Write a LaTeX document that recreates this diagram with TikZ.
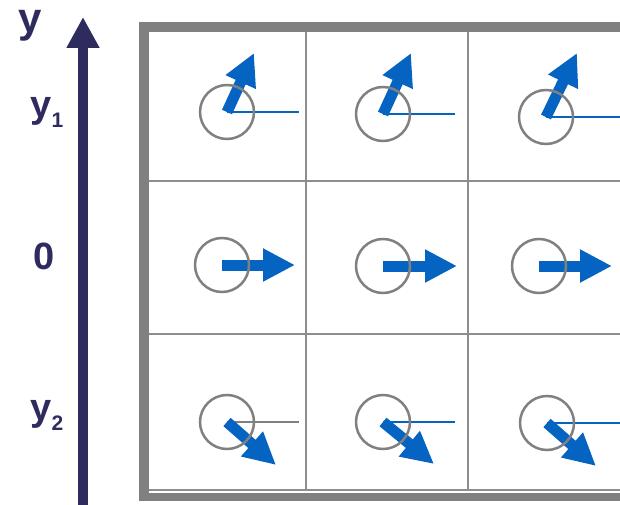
\documentclass[tikz,border=0pt]{standalone}
\usepackage{fontspec}
\setmainfont{Liberation Sans}
\usetikzlibrary{arrows.meta}
\definecolor{axisnavy}{HTML}{2E2B5F}
\definecolor{spinblue}{HTML}{0563C1}
\definecolor{framegray}{HTML}{808080}
\begin{document}
\begin{tikzpicture}[x=1pt,y=-1pt,
    vortex/.style={circle,draw=framegray,line width=2.5pt,minimum size=54pt,inner sep=0pt},
    spin/.style={spinblue,line width=11pt,-{Triangle[length=32pt,width=31pt]}},
    refline/.style={spinblue,line width=2.2pt},
    gridline/.style={framegray!90,line width=2.8pt},
    axis/.style={axisnavy,line width=10pt,-{Triangle[length=31pt,width=31pt]}},
    lab/.style={axisnavy,inner sep=0pt,font=\fontsize{38}{40}\selectfont\bfseries}]
    \useasboundingbox (0,0) rectangle (620,505);
    \clip (0,0) rectangle (620,505);
    % frame and cells
    \draw[framegray,line width=10pt] (144,501) -- (144,27) -- (660,27);
    \draw[framegray,line width=8pt] (139,497) -- (660,497);
    \draw[gridline] (149,490) -- (660,490);
    \draw[gridline] (149,181) -- (660,181);
    \draw[gridline] (149,334) -- (660,334);
    \draw[gridline] (306,32) -- (306,490);
    \draw[gridline] (468,32) -- (468,490);
    % y axis
    \coordinate (ybot) at (83,505);
    \coordinate (ytop) at (83,17);
    \draw[axis] (ybot) -- (ytop);
    \node[lab,font=\fontsize{42}{44}\selectfont\bfseries] (ylab) at (30,25.5) {y};
    \node[lab] (yone) at (47,112) {y\raisebox{-10pt}{\fontsize{21}{21}\selectfont 1}};
    \node[lab] (zero) at (44,256.5) {0};
    \node[lab] (ytwo) at (47,415) {y\raisebox{-10pt}{\fontsize{21}{21}\selectfont 2}};
    % centres, tips and reference ends
    \coordinate (o11) at (227,112); \coordinate (t11) at (254,53); \coordinate (r11) at (299,112);
    \coordinate (o12) at (383,114); \coordinate (t12) at (411,53); \coordinate (r12) at (455,114);
    \coordinate (o13) at (546,117); \coordinate (t13) at (577,53); \coordinate (r13) at (620,117);
    \coordinate (o21) at (222,265); \coordinate (t21) at (295,265);
    \coordinate (o22) at (383,266); \coordinate (t22) at (457,266);
    \coordinate (o23) at (539,266); \coordinate (t23) at (612,266);
    \coordinate (o31) at (227,422); \coordinate (t31) at (276,465); \coordinate (r31) at (299,422);
    \coordinate (o32) at (383,422); \coordinate (t32) at (434,464); \coordinate (r32) at (455,422);
    \coordinate (o33) at (547,423); \coordinate (t33) at (596,466); \coordinate (r33) at (620,423);
    % reference lines
    \draw[refline] (o11) -- (r11);
    \draw[refline] (o12) -- (r12);
    \draw[refline] (o13) -- (r13);
    \draw[refline,framegray] (o31) -- (r31);
    \draw[refline] (o32) -- (r32);
    \draw[refline] (o33) -- (r33);
    % spins
    \draw[spin] (o11) -- (t11);
    \draw[spin] (o12) -- (t12);
    \draw[spin] (o13) -- (t13);
    \draw[spin] (o21) -- (t21);
    \draw[spin] (o22) -- (t22);
    \draw[spin] (o23) -- (t23);
    \draw[spin] (o31) -- (t31);
    \draw[spin] (o32) -- (t32);
    \draw[spin] (o33) -- (t33);
    % vortex cores
    \node[vortex] (c11) at (o11) {};
    \node[vortex] (c12) at (o12) {};
    \node[vortex] (c13) at (o13) {};
    \node[vortex] (c21) at (o21) {};
    \node[vortex] (c22) at (o22) {};
    \node[vortex] (c23) at (o23) {};
    \node[vortex] (c31) at (o31) {};
    \node[vortex] (c32) at (o32) {};
    \node[vortex] (c33) at (o33) {};
\end{tikzpicture}
\end{document}
